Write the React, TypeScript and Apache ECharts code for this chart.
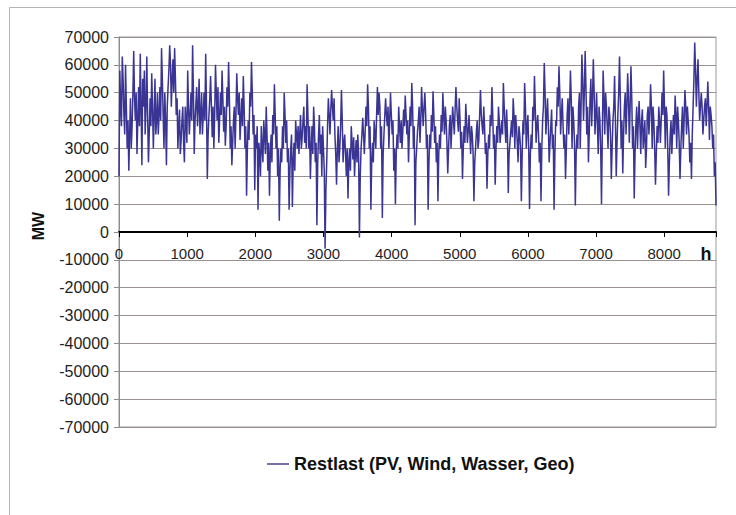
import React, { useEffect, useRef } from "react";
import * as echarts from "echarts";

// Readings are taken once per day at 0 h and once more at 12 h (hours 0 .. 8760)
const HOUR_STEP = 24;
const HALF_STEP = 12;
const X_MAX = 8760;

// Residual load in MW at the start of each day
const restlast: number[] = [
  20000, 45000, 63000, 42000, 60000, 30000, 22000, 48000, 38000, 65000,
  40000, 28000, 52000, 64000, 24000, 45000, 35000, 63000, 25000, 48000,
  57000, 30000, 55000, 40000, 35000, 52000, 66000, 42000, 50000, 24000,
  52000, 67000, 45000, 62000, 66000, 42000, 30000, 44000, 33000, 45000,
  25000, 40000, 58000, 35000, 50000, 67000, 28000, 46000, 38000, 55000,
  42000, 35000, 50000, 64000, 19000, 42000, 56000, 34000, 30000, 60000,
  40000, 32000, 50000, 58000, 36000, 31000, 52000, 61000, 30000, 24000,
  40000, 30000, 57000, 42000, 33000, 48000, 56000, 30000, 13000, 40000,
  50000, 61000, 35000, 15000, 30000, 8000, 28000, 38000, 25000, 35000,
  45000, 22000, 13000, 35000, 42000, 53000, 30000, 20000, 4000, 30000,
  38000, 50000, 32000, 25000, 8000, 30000, 9000, 32000, 40000, 30000,
  28000, 42000, 34000, 45000, 38000, 53000, 30000, 19000, 38000, 45000,
  25000, 2400, 35000, 28000, 20000, 30000, -6000, 25000, 48000, 35000,
  51000, 40000, 35000, 17000, 38000, 30000, 51000, 25000, 35000, 20000,
  12000, 30000, 38000, 26000, 20000, 33000, 35000, -2000, 30000, 41000,
  28000, 45000, 53000, 30000, 8000, 32000, 40000, 30000, 52000, 50000,
  30000, 5000, 35000, 48000, 38000, 30000, 50000, 35000, 22000, 10000,
  35000, 45000, 32000, 30000, 44000, 49000, 35000, 25000, 45000, 53500,
  30000, 2400, 30000, 40000, 32000, 52000, 38000, 50000, 30000, 8000,
  35000, 42000, 50500, 32000, 25000, 11000, 35000, 42000, 50000, 35000,
  40000, 21000, 38000, 30000, 45000, 35000, 52000, 40000, 48000, 30000,
  19000, 38000, 46000, 32000, 42000, 28000, 35000, 11000, 30000, 40000,
  33000, 51000, 38000, 45000, 28000, 15500, 35000, 42000, 52000, 30000,
  17000, 38000, 45000, 32000, 40000, 53500, 38000, 44000, 14000, 32000,
  40000, 48000, 30000, 38000, 25000, 35000, 11000, 40000, 53500, 30000,
  42000, 8300, 35000, 45000, 56000, 32000, 42000, 25000, 11000, 40000,
  60700, 35000, 48000, 25000, 38000, 30000, 8000, 40000, 52000, 59500,
  35000, 48000, 30000, 19000, 42000, 35000, 58000, 30000, 40000, 9500,
  35000, 45000, 30000, 63700, 40000, 65000, 35000, 25000, 48000, 38000,
  62000, 35000, 50000, 28000, 40000, 10000, 58000, 35000, 45000, 30000,
  42000, 19000, 40000, 56000, 20000, 42000, 63000, 30000, 21000, 45000,
  35000, 57000, 32000, 59500, 30000, 12000, 38000, 30000, 47000, 28000,
  44000, 35000, 23000, 42000, 35000, 53000, 30000, 40000, 17000, 38000,
  45000, 32000, 50000, 58000, 30000, 42000, 13000, 35000, 28000, 42000,
  49000, 30000, 40000, 19000, 38000, 30000, 51000, 35000, 40000, 25000,
  19000, 45000, 68000, 45000, 62000, 40000, 50000, 35000, 45000, 38000,
  54000, 33000, 42000, 30000, 20000, 9500,
];

// Residual load in MW at midday (12 h into each day)
const restlastMidday: number[] = [
  58000, 38000, 55000, 35000, 45000, 40000, 35000, 30000, 50000, 48000,
  50000, 40000, 38000, 45000, 55000, 58000, 45000, 42000, 35000, 38000,
  45000, 42000, 35000, 50000, 42000, 40000, 55000, 30000, 40000, 45000,
  58000, 60000, 55000, 50000, 55000, 48000, 38000, 28000, 40000, 32000,
  45000, 32000, 45000, 42000, 40000, 50000, 40000, 52000, 45000, 35000,
  50000, 42000, 40000, 45000, 35000, 48000, 45000, 45000, 42000, 50000,
  52000, 40000, 42000, 48000, 45000, 38000, 45000, 48000, 38000, 32000,
  45000, 42000, 48000, 50000, 40000, 38000, 45000, 38000, 30000, 33000,
  45000, 50000, 42000, 35000, 38000, 32000, 20000, 30000, 40000, 28000,
  35000, 32000, 28000, 25000, 35000, 42000, 38000, 30000, 22000, 25000,
  30000, 42000, 40000, 30000, 22000, 35000, 25000, 22000, 35000, 38000,
  35000, 30000, 40000, 32000, 30000, 42000, 38000, 30000, 28000, 38000,
  32000, 25000, 42000, 35000, 38000, 22000, 15000, 38000, 42000, 44000,
  45000, 48000, 28000, 30000, 25000, 38000, 40000, 32000, 28000, 30000,
  25000, 22000, 32000, 34000, 28000, 25000, 28000, 20000, 35000, 35000,
  36000, 38000, 45000, 38000, 25000, 25000, 35000, 42000, 42000, 45000,
  38000, 28000, 42000, 42000, 45000, 40000, 42000, 40000, 30000, 28000,
  30000, 38000, 40000, 36000, 38000, 42000, 40000, 35000, 38000, 45000,
  38000, 25000, 36000, 45000, 40000, 44000, 45000, 42000, 35000, 25000,
  30000, 36000, 42000, 38000, 32000, 28000, 30000, 36000, 42000, 45000,
  32000, 30000, 42000, 38000, 40000, 44000, 45000, 36000, 40000, 36000,
  30000, 32000, 40000, 36000, 35000, 38000, 28000, 25000, 36000, 30000,
  42000, 42000, 35000, 38000, 32000, 28000, 30000, 38000, 42000, 35000,
  30000, 32000, 40000, 36000, 35000, 45000, 32000, 35000, 28000, 36000,
  34000, 42000, 42000, 32000, 38000, 30000, 28000, 35000, 45000, 38000,
  30000, 28000, 30000, 40000, 45000, 38000, 35000, 32000, 30000, 45000,
  50000, 42000, 38000, 32000, 44000, 35000, 28000, 38000, 45000, 50000,
  42000, 38000, 35000, 30000, 48000, 45000, 48000, 45000, 32000, 28000,
  30000, 50000, 45000, 55000, 50000, 52000, 45000, 35000, 55000, 48000,
  50000, 42000, 38000, 45000, 30000, 35000, 48000, 50000, 38000, 45000,
  35000, 30000, 45000, 40000, 32000, 50000, 48000, 40000, 35000, 50000,
  45000, 48000, 45000, 48000, 38000, 28000, 45000, 40000, 38000, 40000,
  30000, 40000, 30000, 45000, 42000, 45000, 45000, 30000, 28000, 32000,
  40000, 40000, 42000, 45000, 45000, 30000, 25000, 40000, 36000, 35000,
  42000, 45000, 32000, 30000, 45000, 40000, 45000, 45000, 35000, 32000,
  35000, 55000, 58000, 55000, 50000, 45000, 45000, 40000, 48000, 45000,
  45000, 45000, 38000, 35000, 25000,
];

const SERIES_NAME = "Restlast (PV, Wind, Wasser, Geo)";
const X_AXIS_TITLE = "h";
const Y_AXIS_TITLE = "MW";

const FONT = "'Liberation Sans', Arial, Helvetica, sans-serif";

export default function App() {
  const ref = useRef<HTMLDivElement>(null);

  useEffect(() => {
    if (!ref.current) return;
    const chart = echarts.init(ref.current, undefined, { renderer: "svg" });
    const data: number[][] = [];
    restlast.forEach((v, i) => {
      data.push([i * HOUR_STEP, v]);
      if (i < restlastMidday.length) data.push([i * HOUR_STEP + HALF_STEP, restlastMidday[i]]);
    });

    chart.setOption({
      animation: false,
      backgroundColor: "#ffffff",
      textStyle: { fontFamily: FONT },
      grid: {
        left: 119,
        right: 20,
        top: 37,
        bottom: 88,
        show: true,
        borderColor: "#9a9a9a",
        borderWidth: 1,
        backgroundColor: "transparent",
      },
      xAxis: {
        type: "value",
        position: "bottom",
        offset: -195,
        min: 0,
        max: X_MAX,
        interval: 1000,
        axisLine: { show: true, onZero: false, lineStyle: { color: "#000000", width: 2 } },
        axisTick: { show: true, length: 5, lineStyle: { color: "#000000", width: 1 } },
        axisLabel: {
          margin: 14,
          fontSize: 15,
          color: "#1e1e1e",
          fontFamily: FONT,
          formatter: (v: number) => (v % 1000 === 0 ? String(v) : ""),
        },
        splitLine: { show: false },
      },
      yAxis: {
        type: "value",
        min: -70000,
        max: 70000,
        interval: 10000,
        axisLine: { show: true, onZero: false, lineStyle: { color: "#8c8c8c", width: 1 } },
        axisTick: { show: true, length: 5, lineStyle: { color: "#8c8c8c" } },
        axisLabel: {
          margin: 10,
          fontSize: 16,
          color: "#1e1e1e",
          fontFamily: FONT,
          formatter: (v: number) => String(v),
        },
        splitLine: { show: true, lineStyle: { color: "#9a9090", width: 1 } },
      },
      legend: {
        left: 262,
        top: 450,
        itemWidth: 22,
        itemHeight: 2,
        itemGap: 4,
        textStyle: { fontSize: 18, fontWeight: "bold", color: "#111111", fontFamily: FONT },
        data: [{ name: SERIES_NAME, icon: "rect", itemStyle: { color: "#7a6fa8" } }],
      },
      graphic: [
        {
          type: "rect",
          shape: { x: 9.5, y: 7.5, width: 800, height: 600 },
          style: { fill: "none", stroke: "#b4b4b4", lineWidth: 1 },
          silent: true,
        },
        {
          type: "text",
          x: 38,
          y: 226,
          rotation: Math.PI / 2,
          style: {
            text: Y_AXIS_TITLE,
            fontSize: 16,
            fontWeight: "bold",
            fill: "#111111",
            fontFamily: FONT,
            align: "center",
            verticalAlign: "middle",
          },
        },
        {
          type: "text",
          x: 706,
          y: 254,
          style: {
            text: X_AXIS_TITLE,
            fontSize: 18,
            fontWeight: "bold",
            fill: "#111111",
            fontFamily: FONT,
            align: "center",
            verticalAlign: "middle",
          },
        },
      ],
      series: [
        {
          type: "line",
          name: SERIES_NAME,
          data,
          symbol: "none",
          showSymbol: false,
          color: "#3a3594",
          lineStyle: { width: 1.5, color: "#3a3594" },
        },
      ],
    });

    return () => chart.dispose();
  }, []);

  return (
    <div
      ref={ref}
      style={{ position: "fixed", left: 0, top: 0, width: 736, height: 515 }}
    />
  );
}
